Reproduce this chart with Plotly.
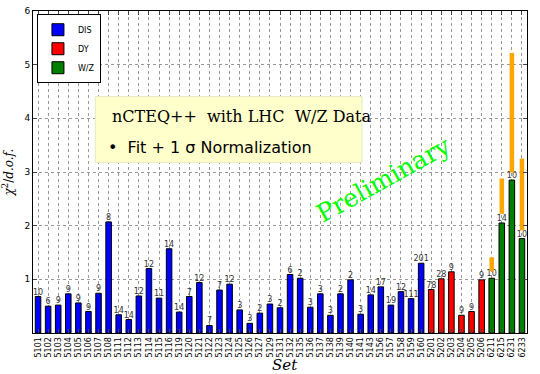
import plotly.graph_objects as go

# data sets
dis_sets = ['5101', '5102', '5103', '5104', '5105', '5106', '5107', '5108', '5111', '5112',
            '5113', '5114', '5115', '5116', '5119', '5120', '5121', '5122', '5123', '5124',
            '5125', '5126', '5127', '5129', '5131', '5132', '5135', '5136', '5137', '5138',
            '5139', '5140', '5141', '5143', '5156', '5157', '5158', '5159', '5160']
dis_chi2 = [0.68, 0.50, 0.52, 0.73, 0.56, 0.40, 0.74, 2.07, 0.34, 0.25,
            0.69, 1.20, 0.65, 1.57, 0.39, 0.68, 0.94, 0.14, 0.80, 0.91,
            0.43, 0.18, 0.37, 0.54, 0.47, 1.09, 1.02, 0.48, 0.73, 0.33,
            0.73, 0.99, 0.35, 0.71, 0.86, 0.52, 0.77, 0.64, 1.30]
dis_npts = ['10', '6', '9', '9', '9', '9', '9', '8', '14', '14',
            '12', '12', '11', '14', '14', '7', '12', '7', '7', '12',
            '3', '3', '2', '3', '2', '6', '2', '3', '3', '3',
            '2', '2', '3', '14', '17', '19', '12', '111', '201']

dy_sets = ['5201', '5202', '5203', '5204', '5205', '5206']
dy_chi2 = [0.81, 1.01, 1.14, 0.33, 0.40, 0.99]
dy_npts = ['78', '28', '9', '9', '9', '9']

wz_sets = ['6211', '6215', '6231', '6233']
wz_chi2 = [1.02, 2.05, 2.85, 1.76]
wz_npts = ['10', '14', '10', '10']
# chi2 without normalization shift (orange)
wz_low = [1.15, 2.22, 2.99, 1.91]
wz_high = [1.41, 2.88, 5.22, 3.25]

fig = go.Figure()

def add_group(name, sets, vals, npts, color):
    fig.add_trace(go.Bar(x=sets, y=vals, name=name, width=0.55,
                         marker=dict(color=color, line=dict(color='black', width=1)),
                         text=npts, textposition='outside', cliponaxis=False,
                         textfont=dict(size=8, color='#333333', family='DejaVu Sans')))

add_group('DIS', dis_sets, dis_chi2, dis_npts, '#0000ff')
add_group('DY', dy_sets, dy_chi2, dy_npts, '#ff0000')
add_group('W/Z', wz_sets, wz_chi2, wz_npts, '#007f00')

fig.add_trace(go.Bar(x=wz_sets, y=[h - l for h, l in zip(wz_high, wz_low)], base=wz_low,
                     width=0.45, marker=dict(color='#ffa500', line=dict(width=0)),
                     showlegend=False))

fig.update_layout(
    width=540, height=374,
    margin=dict(l=33, r=13, t=11, b=41),
    paper_bgcolor='white', plot_bgcolor='white',
    barmode='overlay',
    uniformtext=dict(minsize=8, mode='show'),
    font=dict(family='DejaVu Sans', size=9, color='black'),
    legend=dict(x=0.008, y=0.99, xanchor='left', yanchor='top',
                bgcolor='white', bordercolor='black', borderwidth=1,
                font=dict(size=8), itemwidth=30, tracegroupgap=0),
)
fig.update_xaxes(type='category', categoryorder='array',
                 categoryarray=dis_sets + dy_sets + wz_sets,
                 range=[-0.5, 48.5], tickangle=-90, tickfont=dict(size=8),
                 showline=True, linecolor='black', linewidth=1, mirror='ticks',
                 ticks='inside', ticklen=4, automargin=False,
                 showgrid=True, gridcolor='#999999', griddash='dot', gridwidth=1)
fig.update_yaxes(range=[0, 6], tickvals=[1, 2, 3, 4, 5, 6], tickfont=dict(size=9),
                 showline=True, linecolor='black', linewidth=1, mirror='ticks',
                 ticks='inside', ticklen=4, automargin=False,
                 showgrid=True, gridcolor='#999999', griddash='dot', gridwidth=1,
                 zeroline=False,
                 title=dict(text='<i>χ</i><sup>2</sup>/<i>d.o.f.</i>',
                            font=dict(family='DejaVu Serif', size=12), standoff=8))

# x title
fig.add_annotation(xref='paper', yref='paper', x=0.51, y=-0.066, yanchor='top',
                   text='<i>Set</i>', showarrow=False,
                   font=dict(family='DejaVu Serif', size=15, color='black'))

# info box
fig.add_shape(type='rect', xref='paper', yref='paper', x0=0.126, x1=0.666, y0=0.53, y1=0.734,
              fillcolor='#ffffcc', line=dict(color='#e8e8c0', width=1), layer='above')
fig.add_annotation(xref='paper', yref='paper', x=0.155, y=0.673, xanchor='left', yanchor='middle',
                   text='nCTEQ++  with LHC  W/Z Data', showarrow=False,
                   font=dict(family='DejaVu Serif', size=16, color='black'))
fig.add_annotation(xref='paper', yref='paper', x=0.148, y=0.577, xanchor='left', yanchor='middle',
                   text='•  Fit + 1 σ Normalization', showarrow=False,
                   font=dict(family='DejaVu Sans', size=16, color='black'))
fig.add_annotation(xref='paper', yref='paper', x=0.71, y=0.478, xanchor='center', yanchor='middle',
                   textangle=-29, text='Preliminary', showarrow=False,
                   font=dict(family='DejaVu Serif', size=25, color='#00ff00'))

fig.write_html("out.html", config={'displayModeBar': False},
               post_script="document.body.style.margin='0';")
